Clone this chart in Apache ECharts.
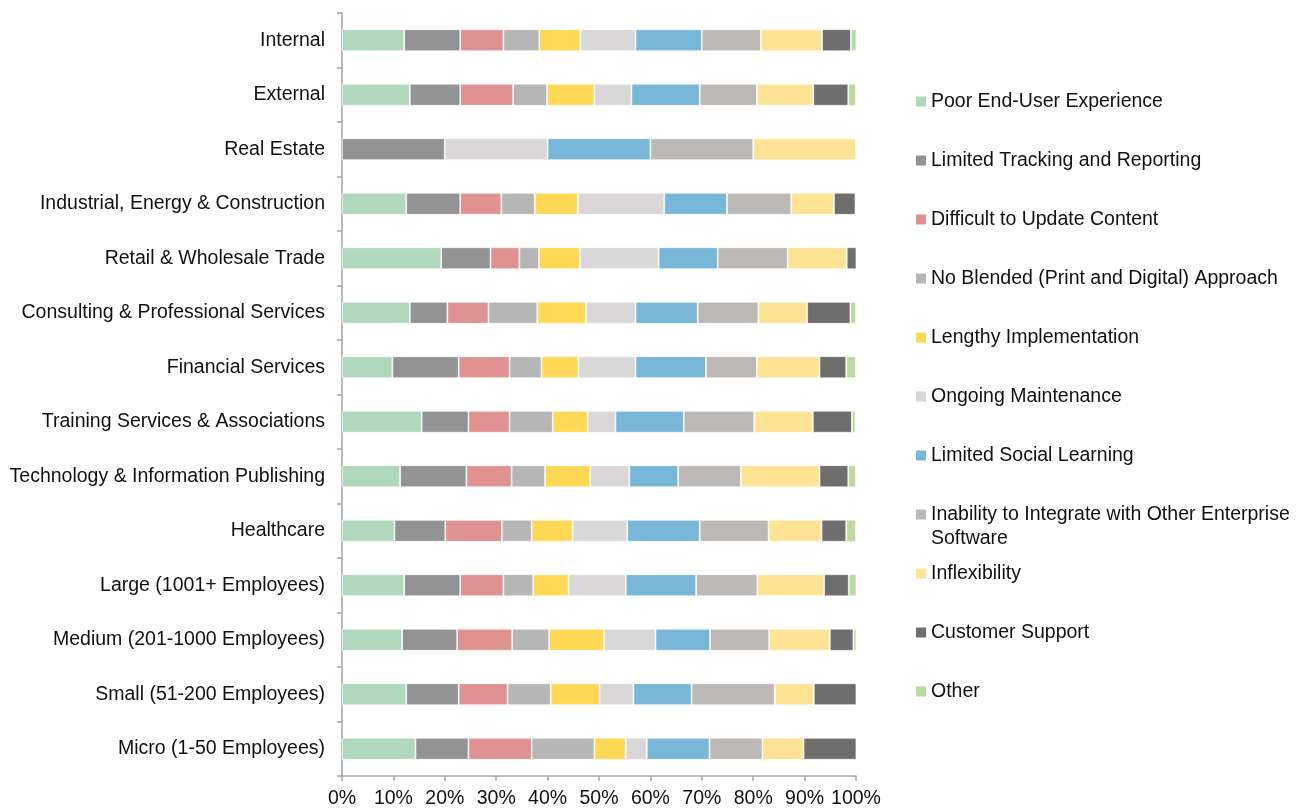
<!DOCTYPE html>
<html><head><meta charset="utf-8">
<script src="https://cdn.jsdelivr.net/npm/echarts@6/dist/echarts.min.js"></script>
<style>html,body{margin:0;padding:0;background:#fff}#c{width:1301px;height:809px}</style>
</head><body><div id="c"></div>
<script>
const categories = ["Internal","External","Real Estate","Industrial, Energy & Construction","Retail & Wholesale Trade","Consulting & Professional Services","Financial Services","Training Services & Associations","Technology & Information Publishing","Healthcare","Large (1001+ Employees)","Medium (201-1000 Employees)","Small (51-200 Employees)","Micro (1-50 Employees)"];
const seriesNames = ["Poor End-User Experience","Limited Tracking and Reporting","Difficult to Update Content","No Blended (Print and Digital) Approach","Lengthy Implementation","Ongoing Maintenance","Limited Social Learning","Inability to Integrate with Other Enterprise Software","Inflexibility","Customer Support","Other"];
const colors = ["#afd8bc","#939393","#e09191","#b5b6b5","#ffd855","#d9d7d7","#78b7d7","#bcb8b6","#fee395","#6d6e6d","#badb9f"];
const poorUX      = [12.1,13.2,0,12.5,19.3,13.2,9.8,15.5,11.3,10.2,12.1,11.7,12.5,14.3];
const tracking    = [10.9,9.8,20.0,10.5,9.6,7.3,12.9,9.1,12.9,9.9,10.9,10.7,10.2,10.3];
const updateCont  = [8.4,10.3,0,8.0,5.6,8.0,9.9,8.0,8.8,11.0,8.4,10.7,9.5,12.3];
const noBlended   = [7.0,6.6,0,6.5,3.8,9.5,6.2,8.4,6.5,5.8,5.8,7.2,8.4,12.2];
const lengthy     = [8.0,9.2,0,8.4,8.0,9.5,7.2,6.8,8.8,8.0,6.9,10.7,9.5,6.1];
const ongoing     = [10.7,7.2,20.0,16.8,15.3,9.6,11.1,5.4,7.6,10.6,11.1,10.0,6.6,4.1];
const social      = [12.9,13.3,20.0,12.2,11.5,12.1,13.7,13.3,9.5,14.1,13.7,10.6,11.3,12.2];
const integrate   = [11.5,11.1,20.0,12.5,13.6,11.8,9.9,13.7,12.2,13.4,11.9,11.5,16.2,10.3];
const inflex      = [11.9,11.0,20.0,8.3,11.5,9.5,12.2,11.4,15.3,10.3,13.0,11.8,7.6,8.0];
const support     = [5.6,6.8,0,4.2,1.9,8.4,5.2,7.6,5.6,4.8,4.8,4.6,8.4,10.3];
const other       = [1.1,1.5,0,0,0,1.1,1.9,0.7,1.5,1.9,1.5,0.7,0,0];
const xTicks = [0,10,20,30,40,50,60,70,80,90,100];

const allData = [poorUX,tracking,updateCont,noBlended,lengthy,ongoing,social,integrate,inflex,support,other];
const FONT = "'Liberation Sans', Arial, sans-serif";
const FS = 19.5;

const series = seriesNames.map((n,i)=>({
  name:n, type:'bar', stack:'total', barWidth:22,
  data: allData[i].map(v => v === 0 ? null : v),
  itemStyle:{color:colors[i], borderColor:'rgba(255,255,255,0.85)', borderWidth:0.8},
  emphasis:{disabled:true}
}));

const legends = seriesNames.map((n,i)=>{
  const iconCenter = 100 + 59*i;
  const multi = (i === 7);
  const LH = multi ? 24.5 : 22;
  return {
    orient:'vertical', left:916, top: multi ? iconCenter - (1.5*LH) : iconCenter - LH/2,
    padding:0, itemWidth:10, itemHeight:10, itemGap:0, icon:'rect',
    itemStyle:{borderWidth:0, color:colors[i]},
    data:[n],
    formatter: multi ? (name => '\nInability to Integrate with Other Enterprise\nSoftware') : undefined,
    textStyle:{fontSize:FS, fontFamily:FONT, color:'#111', lineHeight:LH, padding:[3,0,0,0]},
    selectedMode:false
  };
});

const chart = echarts.init(document.getElementById('c'), null, {renderer:'canvas'});
chart.setOption({
  animation:false,
  backgroundColor:'#fff',
  grid:{left:342, width:514, top:13, height:763.5},
  legend: legends,
  xAxis:{
    type:'value', min:xTicks[0], max:xTicks[xTicks.length-1], interval:10,
    axisLine:{show:true, lineStyle:{color:'#a6a6a6', width:1.5}},
    axisTick:{show:true, length:5, lineStyle:{color:'#a6a6a6', width:1.5}},
    splitLine:{show:false},
    axisLabel:{formatter:'{value}%', fontSize:FS, fontFamily:FONT, color:'#111', margin:13}
  },
  yAxis:{
    type:'category', data:categories, inverse:true,
    axisLine:{show:true, lineStyle:{color:'#a6a6a6', width:1.5}},
    axisTick:{show:true, length:5, lineStyle:{color:'#a6a6a6', width:1.5}},
    axisLabel:{fontSize:FS, fontFamily:FONT, color:'#111', margin:17}
  },
  series: series
});
</script></body></html>
